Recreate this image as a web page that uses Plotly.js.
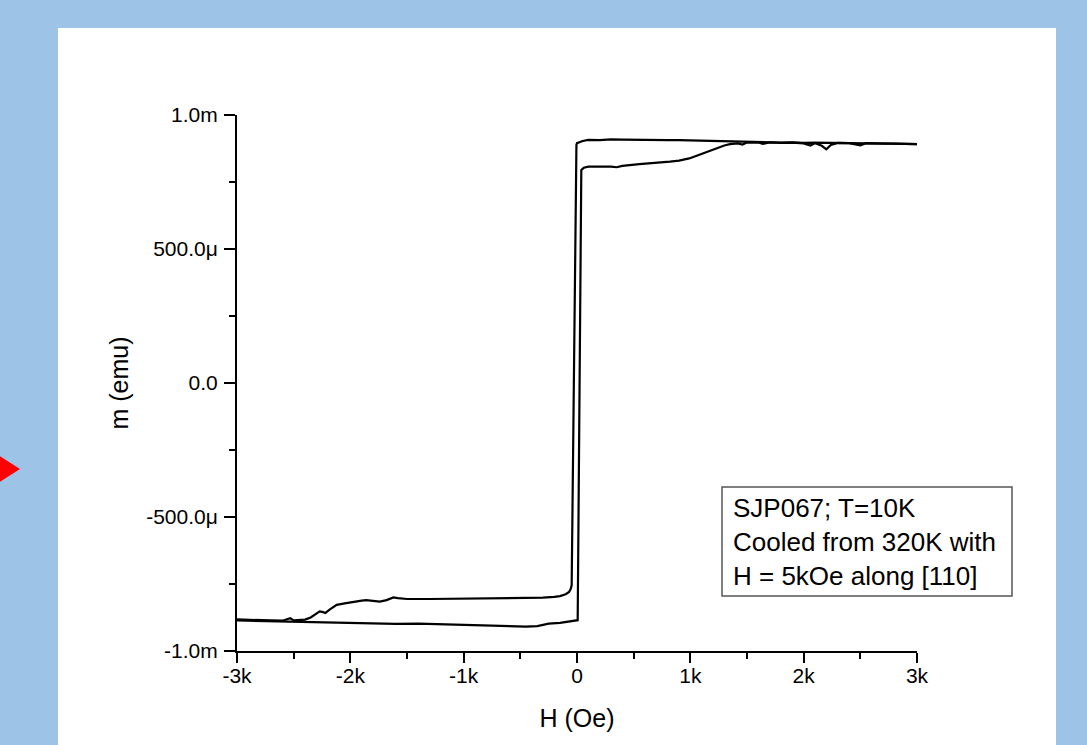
<!DOCTYPE html>
<html>
<head>
<meta charset="utf-8">
<script src="https://cdn.plot.ly/plotly-3.0.1.min.js"></script>
<style>
html,body{margin:0;padding:0;background:#9dc3e6;}
#chart{width:1087px;height:745px;}
</style>
</head>
<body>
<div id="chart"></div>
<script>
// Branch 1: from -3 kOe upward, switching at about -45 Oe (m in emu)
const fieldA = [-3000,-2900,-2800,-2700,-2600,-2530,-2500,-2450,-2400,-2350,-2300,-2270,-2240,-2220,-2180,-2120,-2050,-2000,-1900,-1860,-1800,-1740,-1680,-1620,-1580,-1500,-1300,-1100,-900,-700,-500,-300,-200,-150,-100,-70,-55,-47,-5,0,50,100,200,300,400,500,600,700,800,900,1000,1100,1200,1300,1400,1500,1600,1700,1800,1900,2000,2100,2200,2300,2400,2500,2600,2700,2800,2900,3000];
const momentA = [-0.882e-3,-0.884e-3,-0.885e-3,-0.886e-3,-0.887e-3,-0.878e-3,-0.886e-3,-0.885e-3,-0.883e-3,-0.875e-3,-0.862e-3,-0.852e-3,-0.855e-3,-0.858e-3,-0.845e-3,-0.828e-3,-0.822e-3,-0.818e-3,-0.812e-3,-0.810e-3,-0.812e-3,-0.816e-3,-0.810e-3,-0.800e-3,-0.803e-3,-0.806e-3,-0.806e-3,-0.805e-3,-0.806e-3,-0.804e-3,-0.803e-3,-0.801e-3,-0.798e-3,-0.795e-3,-0.788e-3,-0.780e-3,-0.768e-3,-0.755e-3,0.888e-3,0.895e-3,0.903e-3,0.907e-3,0.906e-3,0.909e-3,0.908e-3,0.907e-3,0.908e-3,0.907e-3,0.906e-3,0.906e-3,0.905e-3,0.905e-3,0.904e-3,0.903e-3,0.901e-3,0.899e-3,0.898e-3,0.898e-3,0.897e-3,0.898e-3,0.896e-3,0.897e-3,0.896e-3,0.896e-3,0.895e-3,0.894e-3,0.894e-3,0.893e-3,0.893e-3,0.892e-3,0.891e-3];

// Branch 2: lower left branch, switching just above 0 Oe
const fieldB = [-3000,-2800,-2600,-2400,-2200,-2000,-1800,-1600,-1400,-1200,-1000,-800,-600,-450,-350,-250,-150,-50,0,6,38,60,100,200,300,350,400,550,700,820,900,990,1050,1110,1170,1230,1300,1350,1420,1460,1500,1600,1640,1700,1800,1900,2000,2060,2100,2160,2200,2240,2300,2400,2500,2550,2700,2800,2900,3000];
const momentB = [-0.886e-3,-0.888e-3,-0.889e-3,-0.891e-3,-0.893e-3,-0.894e-3,-0.896e-3,-0.899e-3,-0.898e-3,-0.900e-3,-0.901e-3,-0.903e-3,-0.905e-3,-0.909e-3,-0.907e-3,-0.898e-3,-0.895e-3,-0.889e-3,-0.888e-3,-0.885e-3,0.795e-3,0.803e-3,0.807e-3,0.808e-3,0.807e-3,0.805e-3,0.810e-3,0.817e-3,0.821e-3,0.826e-3,0.830e-3,0.838e-3,0.847e-3,0.857e-3,0.867e-3,0.876e-3,0.886e-3,0.891e-3,0.894e-3,0.890e-3,0.897e-3,0.898e-3,0.892e-3,0.898e-3,0.896e-3,0.897e-3,0.894e-3,0.886e-3,0.895e-3,0.885e-3,0.872e-3,0.888e-3,0.896e-3,0.895e-3,0.887e-3,0.895e-3,0.894e-3,0.893e-3,0.892e-3,0.891e-3];

const xTickVals = [-3000,-2000,-1000,0,1000,2000,3000];
const xTickText = ['-3k','-2k','-1k','0','1k','2k','3k'];
const xMinorVals = [-2500,-1500,-500,500,1500,2500];
const yTickVals = [-0.001,-0.0005,0,0.0005,0.001];
const yTickText = ['-1.0m','-500.0\u03bc','0.0','500.0\u03bc','1.0m'];
const yMinorVals = [-0.00075,-0.00025,0.00025,0.00075];

const legendLines = ['SJP067; T=10K','Cooled from 320K with','H = 5kOe along [110]'];

// page geometry (pixels) converted to paper coordinates
const W = 1087, H = 745;
const L = 237, R = 917, T = 115, B = 651;
const px = v => (v - L) / (R - L);
const py = v => (B - v) / (B - T);

const FONT = '"Liberation Sans", Arial, sans-serif';

const traces = [
  {x: fieldA, y: momentA, type: 'scatter', mode: 'lines', line: {color: '#000', width: 2.2}, hoverinfo: 'x+y'},
  {x: fieldB, y: momentB, type: 'scatter', mode: 'lines', line: {color: '#000', width: 2.2}, hoverinfo: 'x+y'}
];

const layout = {
  width: W, height: H,
  margin: {l: L, r: W - R, t: T, b: H - B, pad: 0},
  paper_bgcolor: '#9dc3e6',
  plot_bgcolor: 'rgba(0,0,0,0)',
  showlegend: false,
  font: {family: FONT, color: '#000', size: 21},
  xaxis: {
    range: [-3000, 3000], tickmode: 'array', tickvals: xTickVals, ticktext: xTickText,
    ticks: 'outside', ticklen: 10, tickwidth: 2, tickcolor: '#000',
    showline: true, linecolor: '#000', linewidth: 2, mirror: false,
    showgrid: false, zeroline: false,
    tickfont: {family: FONT, size: 21, color: '#000'},
    ticklabelstandoff: -5,
    minor: {tickmode: 'array', tickvals: xMinorVals, ticks: 'outside', ticklen: 6, tickwidth: 2, tickcolor: '#000', showgrid: false},
    title: {text: 'H (Oe)', font: {family: FONT, size: 25, color: '#000'}, standoff: 23}
  },
  yaxis: {
    range: [-0.001, 0.001], tickmode: 'array', tickvals: yTickVals, ticktext: yTickText,
    ticks: 'outside', ticklen: 11, tickwidth: 2, tickcolor: '#000',
    showline: true, linecolor: '#000', linewidth: 2, mirror: false,
    showgrid: false, zeroline: false,
    tickfont: {family: FONT, size: 21, color: '#000'},
    ticklabelstandoff: 2,
    minor: {tickmode: 'array', tickvals: yMinorVals, ticks: 'outside', ticklen: 6, tickwidth: 2, tickcolor: '#000', showgrid: false},
    title: {text: 'm (emu)', font: {family: FONT, size: 25, color: '#000'}, standoff: 10}
  },
  shapes: [
    {type: 'rect', xref: 'paper', yref: 'paper', layer: 'below',
     x0: px(58), x1: px(1056), y0: py(760), y1: py(28), fillcolor: '#ffffff', line: {width: 0}},
    {type: 'path', xref: 'paper', yref: 'paper', layer: 'above',
     path: 'M ' + px(-10) + ' ' + py(450) + ' L ' + px(20) + ' ' + py(469) + ' L ' + px(-10) + ' ' + py(488) + ' Z',
     fillcolor: '#ff0000', line: {width: 0}},
    {type: 'rect', xref: 'paper', yref: 'paper', layer: 'above',
     x0: px(722), x1: px(1012), y0: py(596), y1: py(487), fillcolor: 'rgba(255,255,255,0)', line: {color: '#555', width: 1.5}}
  ],
  annotations: [
    {xref: 'paper', yref: 'paper', x: px(731), y: py(542), xanchor: 'left', yanchor: 'middle',
     text: legendLines.join('<br>'), align: 'left', showarrow: false,
     font: {family: FONT, size: 26, color: '#000'}}
  ]
};

Plotly.newPlot('chart', traces, layout, {displayModeBar: false, staticPlot: true});
</script>
</body>
</html>
